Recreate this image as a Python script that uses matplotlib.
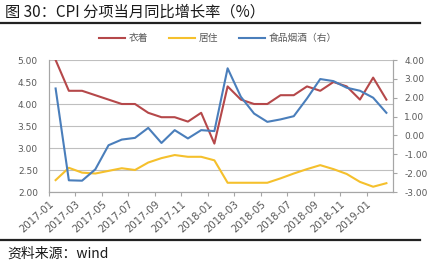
import matplotlib
matplotlib.use("Agg")
import matplotlib.pyplot as plt
import numpy as np

plt.rcParams['font.family'] = ['Noto Sans CJK SC', 'DejaVu Sans']

months = ["2017-01","2017-02","2017-03","2017-04","2017-05","2017-06","2017-07","2017-08",
          "2017-09","2017-10","2017-11","2017-12","2018-01","2018-02","2018-03","2018-04",
          "2018-05","2018-06","2018-07","2018-08","2018-09","2018-10","2018-11","2018-12",
          "2019-01","2019-02"]
clothing = [5.0, 4.3, 4.3, 4.2, 4.1, 4.0, 4.0, 3.8, 3.7, 3.7, 3.6, 3.8, 3.1,
            4.4, 4.1, 4.0, 4.0, 4.2, 4.2, 4.4, 4.3, 4.5, 4.4, 4.1, 4.6, 4.1]
housing = [2.27, 2.55, 2.44, 2.42, 2.48, 2.54, 2.50, 2.67, 2.77, 2.84, 2.80, 2.80, 2.72,
           2.21, 2.21, 2.21, 2.21, 2.31, 2.42, 2.52, 2.61, 2.52, 2.41, 2.23, 2.12, 2.20]
food = [2.49, -2.38, -2.40, -1.80, -0.52, -0.22, -0.13, 0.40, -0.40, 0.28, -0.16, 0.28, 0.23,
        3.56, 2.05, 1.16, 0.72, 0.85, 1.02, 1.96, 2.99, 2.88, 2.53, 2.37, 2.00, 1.20]
series_names = ["衣着", "居住", "食品烟酒（右）"]
left_ticks = [2.0, 2.5, 3.0, 3.5, 4.0, 4.5, 5.0]
right_ticks = [-3.0, -2.0, -1.0, 0.0, 1.0, 2.0, 3.0, 4.0]

c_red = '#B5484A'
c_yel = '#F5C02C'
c_blu = '#4A7EBB'
tick_col = '#595959'

W, H = 431, 267
fig = plt.figure(figsize=(W/100, H/100), dpi=100)
ax = fig.add_axes([49/W, 1-192/H, 344/W, 132/H])
ax2 = ax.twinx()

x = np.arange(len(months)) + 0.5
l1, = ax.plot(x, clothing, color=c_red, lw=1.5, label=series_names[0])
l2, = ax.plot(x, housing, color=c_yel, lw=1.5, label=series_names[1])
l3, = ax2.plot(x, food, color=c_blu, lw=1.5, label=series_names[2])

ax.set_xlim(0, len(months))
ax.set_ylim(2.0, 5.0)
ax2.set_ylim(-3.0, 4.0)
ax.set_yticks(left_ticks)
ax.set_yticklabels([f"{v:.2f}" for v in left_ticks], fontsize=6.5, color=tick_col, family='DejaVu Sans')
ax2.set_yticks(right_ticks)
ax2.set_yticklabels([f"{v:.2f}" for v in right_ticks], fontsize=6.5, color=tick_col, family='DejaVu Sans')
ax.set_xticks(np.arange(0, len(months), 2))
ax.set_xticklabels(months[::2], rotation=42, ha='right', va='top', fontsize=7.3,
                   color=tick_col, family='DejaVu Sans', rotation_mode='anchor')
ax.grid(axis='y', color='#BFBFBF', lw=0.8)
ax.set_axisbelow(True)
for a in (ax, ax2):
    for s in ['top']:
        a.spines[s].set_visible(False)
    for s in ['left', 'right', 'bottom']:
        a.spines[s].set_color('#A6A6A6')
        a.spines[s].set_linewidth(0.8)
    a.tick_params(axis='both', color='#A6A6A6', length=3, width=0.8, pad=2)
ax.tick_params(axis='y', length=0, pad=8)
ax2.tick_params(axis='y', pad=5)

fig.legend(handles=[l1, l2, l3], labels=series_names, loc='center', bbox_to_anchor=(218/W, 1-38/H),
           ncol=3, frameon=False, fontsize=7, handlelength=2.6, columnspacing=2.2, handletextpad=0.4,
           labelcolor=tick_col)

fig.text(5/W, 1-12/H, "图 30：CPI 分项当月同比增长率（%）", fontsize=11, va='center', ha='left', color='#1a1a1a')
fig.add_artist(plt.Line2D([0, 420/W], [1-23/H, 1-23/H], color='#222222', lw=1.6))
fig.add_artist(plt.Line2D([0, 420/W], [1-240/H, 1-240/H], color='#222222', lw=1.6))
fig.text(7/W, 1-254/H, "资料来源：wind", fontsize=10, va='center', ha='left', color='#1a1a1a')

fig.savefig("out.png", dpi=100)
